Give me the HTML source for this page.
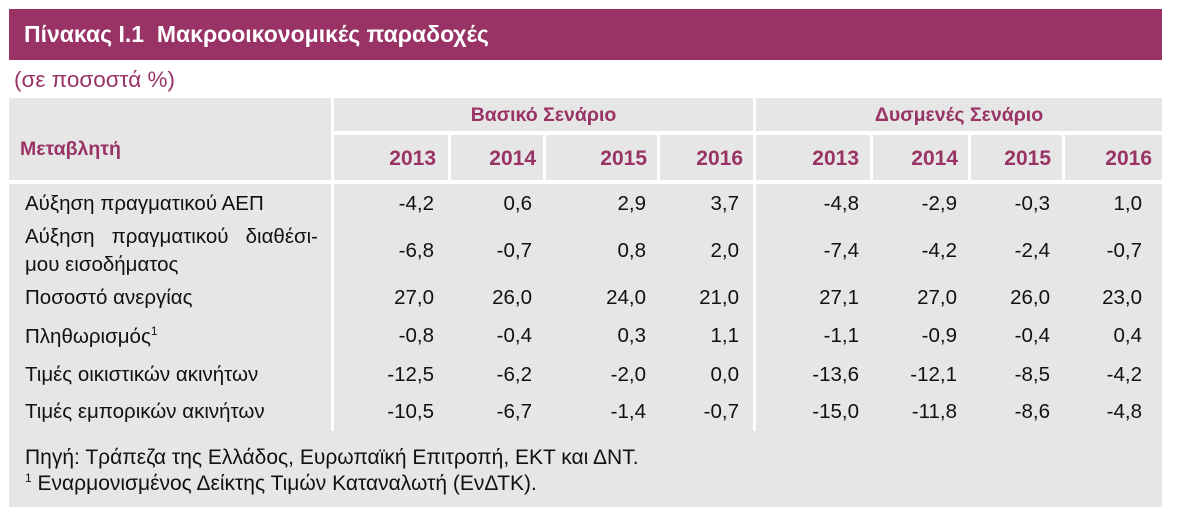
<!DOCTYPE html><html><head><meta charset="utf-8"><style>
body{margin:0;width:1178px;height:514px;background:#fff;position:relative;font-family:"Liberation Sans","DejaVu Sans",sans-serif;overflow:hidden}
div{position:absolute;white-space:nowrap}
.g{background:#e6e6e6}
.h{color:#993366;font-weight:bold;font-size:19.5px}
.t{font-size:20.5px;color:#111}
.n{font-size:20.5px;color:#111;text-align:right;width:100px}
.y{font-size:21px;color:#993366;font-weight:bold;text-align:right;width:100px}
</style></head><body>
<div style="left:9px;top:9px;width:1153px;height:51px;background:#993366"></div>
<div style="left:24px;top:21px;color:#fff;font-weight:bold;font-size:23px">Πίνακας Ι.1&nbsp; Μακροοικονομικές παραδοχές</div>
<div style="left:14px;top:67px;color:#993366;font-size:22.5px">(σε ποσοστά %)</div>
<div class="g" style="left:9px;top:98px;width:1153px;height:409px"></div>
<div style="left:331px;top:98px;width:3px;height:333px;background:#fff"></div>
<div style="left:753px;top:98px;width:3px;height:333px;background:#fff"></div>
<div style="left:334px;top:131px;width:828px;height:4px;background:#fff"></div>
<div style="left:9px;top:180px;width:1153px;height:4px;background:#fff"></div>
<div style="left:448px;top:135px;width:3px;height:45px;background:#fff"></div>
<div style="left:543px;top:135px;width:3px;height:45px;background:#fff"></div>
<div style="left:657px;top:135px;width:3px;height:45px;background:#fff"></div>
<div style="left:870px;top:135px;width:3px;height:45px;background:#fff"></div>
<div style="left:968px;top:135px;width:3px;height:45px;background:#fff"></div>
<div style="left:1062px;top:135px;width:3px;height:45px;background:#fff"></div>
<div class="h" style="left:20px;top:138px">Μεταβλητή</div>
<div class="h" style="left:334px;width:419px;text-align:center;top:104px">Βασικό Σενάριο</div>
<div class="h" style="left:756px;width:406px;text-align:center;top:104px">Δυσμενές Σενάριο</div>
<div class="y" style="left:336px;top:147px">2013</div>
<div class="y" style="left:436px;top:147px">2014</div>
<div class="y" style="left:547px;top:147px">2015</div>
<div class="y" style="left:643px;top:147px">2016</div>
<div class="y" style="left:759px;top:147px">2013</div>
<div class="y" style="left:858px;top:147px">2014</div>
<div class="y" style="left:951px;top:147px">2015</div>
<div class="y" style="left:1052px;top:147px">2016</div>
<div class="t" style="left:25px;top:192px">Αύξηση πραγματικού ΑΕΠ</div>
<div class="t" style="left:25px;top:225px;width:293px;text-align:justify;text-align-last:justify">Αύξηση πραγματικού διαθέσι-</div>
<div class="t" style="left:25px;top:253px">μου εισοδήματος</div>
<div class="t" style="left:25px;top:286px">Ποσοστό ανεργίας</div>
<div class="t" style="left:25px;top:324px">Πληθωρισμός<sup style="font-size:12px">1</sup></div>
<div class="t" style="left:25px;top:363px">Τιμές οικιστικών ακινήτων</div>
<div class="t" style="left:25px;top:400px">Τιμές εμπορικών ακινήτων</div>
<div id="nums"></div>
<div class="t" style="left:25px;top:446px;font-size:21px">Πηγή: Τράπεζα της Ελλάδος, Ευρωπαϊκή Επιτροπή, ΕΚΤ και ΔΝΤ.</div>
<div class="t" style="left:25px;top:471px;font-size:21px"><sup style="font-size:12px">1</sup> Εναρμονισμένος Δείκτης Τιμών Καταναλωτή (ΕνΔΤΚ).</div>
<script>
var rights=[434,532,646,739,859,957,1050,1142];
var tops=[192,239,286,324,363,400];
var d=[["-4,2","0,6","2,9","3,7","-4,8","-2,9","-0,3","1,0"],["-6,8","-0,7","0,8","2,0","-7,4","-4,2","-2,4","-0,7"],["27,0","26,0","24,0","21,0","27,1","27,0","26,0","23,0"],["-0,8","-0,4","0,3","1,1","-1,1","-0,9","-0,4","0,4"],["-12,5","-6,2","-2,0","0,0","-13,6","-12,1","-8,5","-4,2"],["-10,5","-6,7","-1,4","-0,7","-15,0","-11,8","-8,6","-4,8"]];
var h="";for(var i=0;i<6;i++)for(var j=0;j<8;j++)h+='<div class="n" style="left:'+(rights[j]-100)+'px;top:'+tops[i]+'px">'+d[i][j]+'</div>';
document.getElementById("nums").innerHTML=h;
</script>
</body></html>
